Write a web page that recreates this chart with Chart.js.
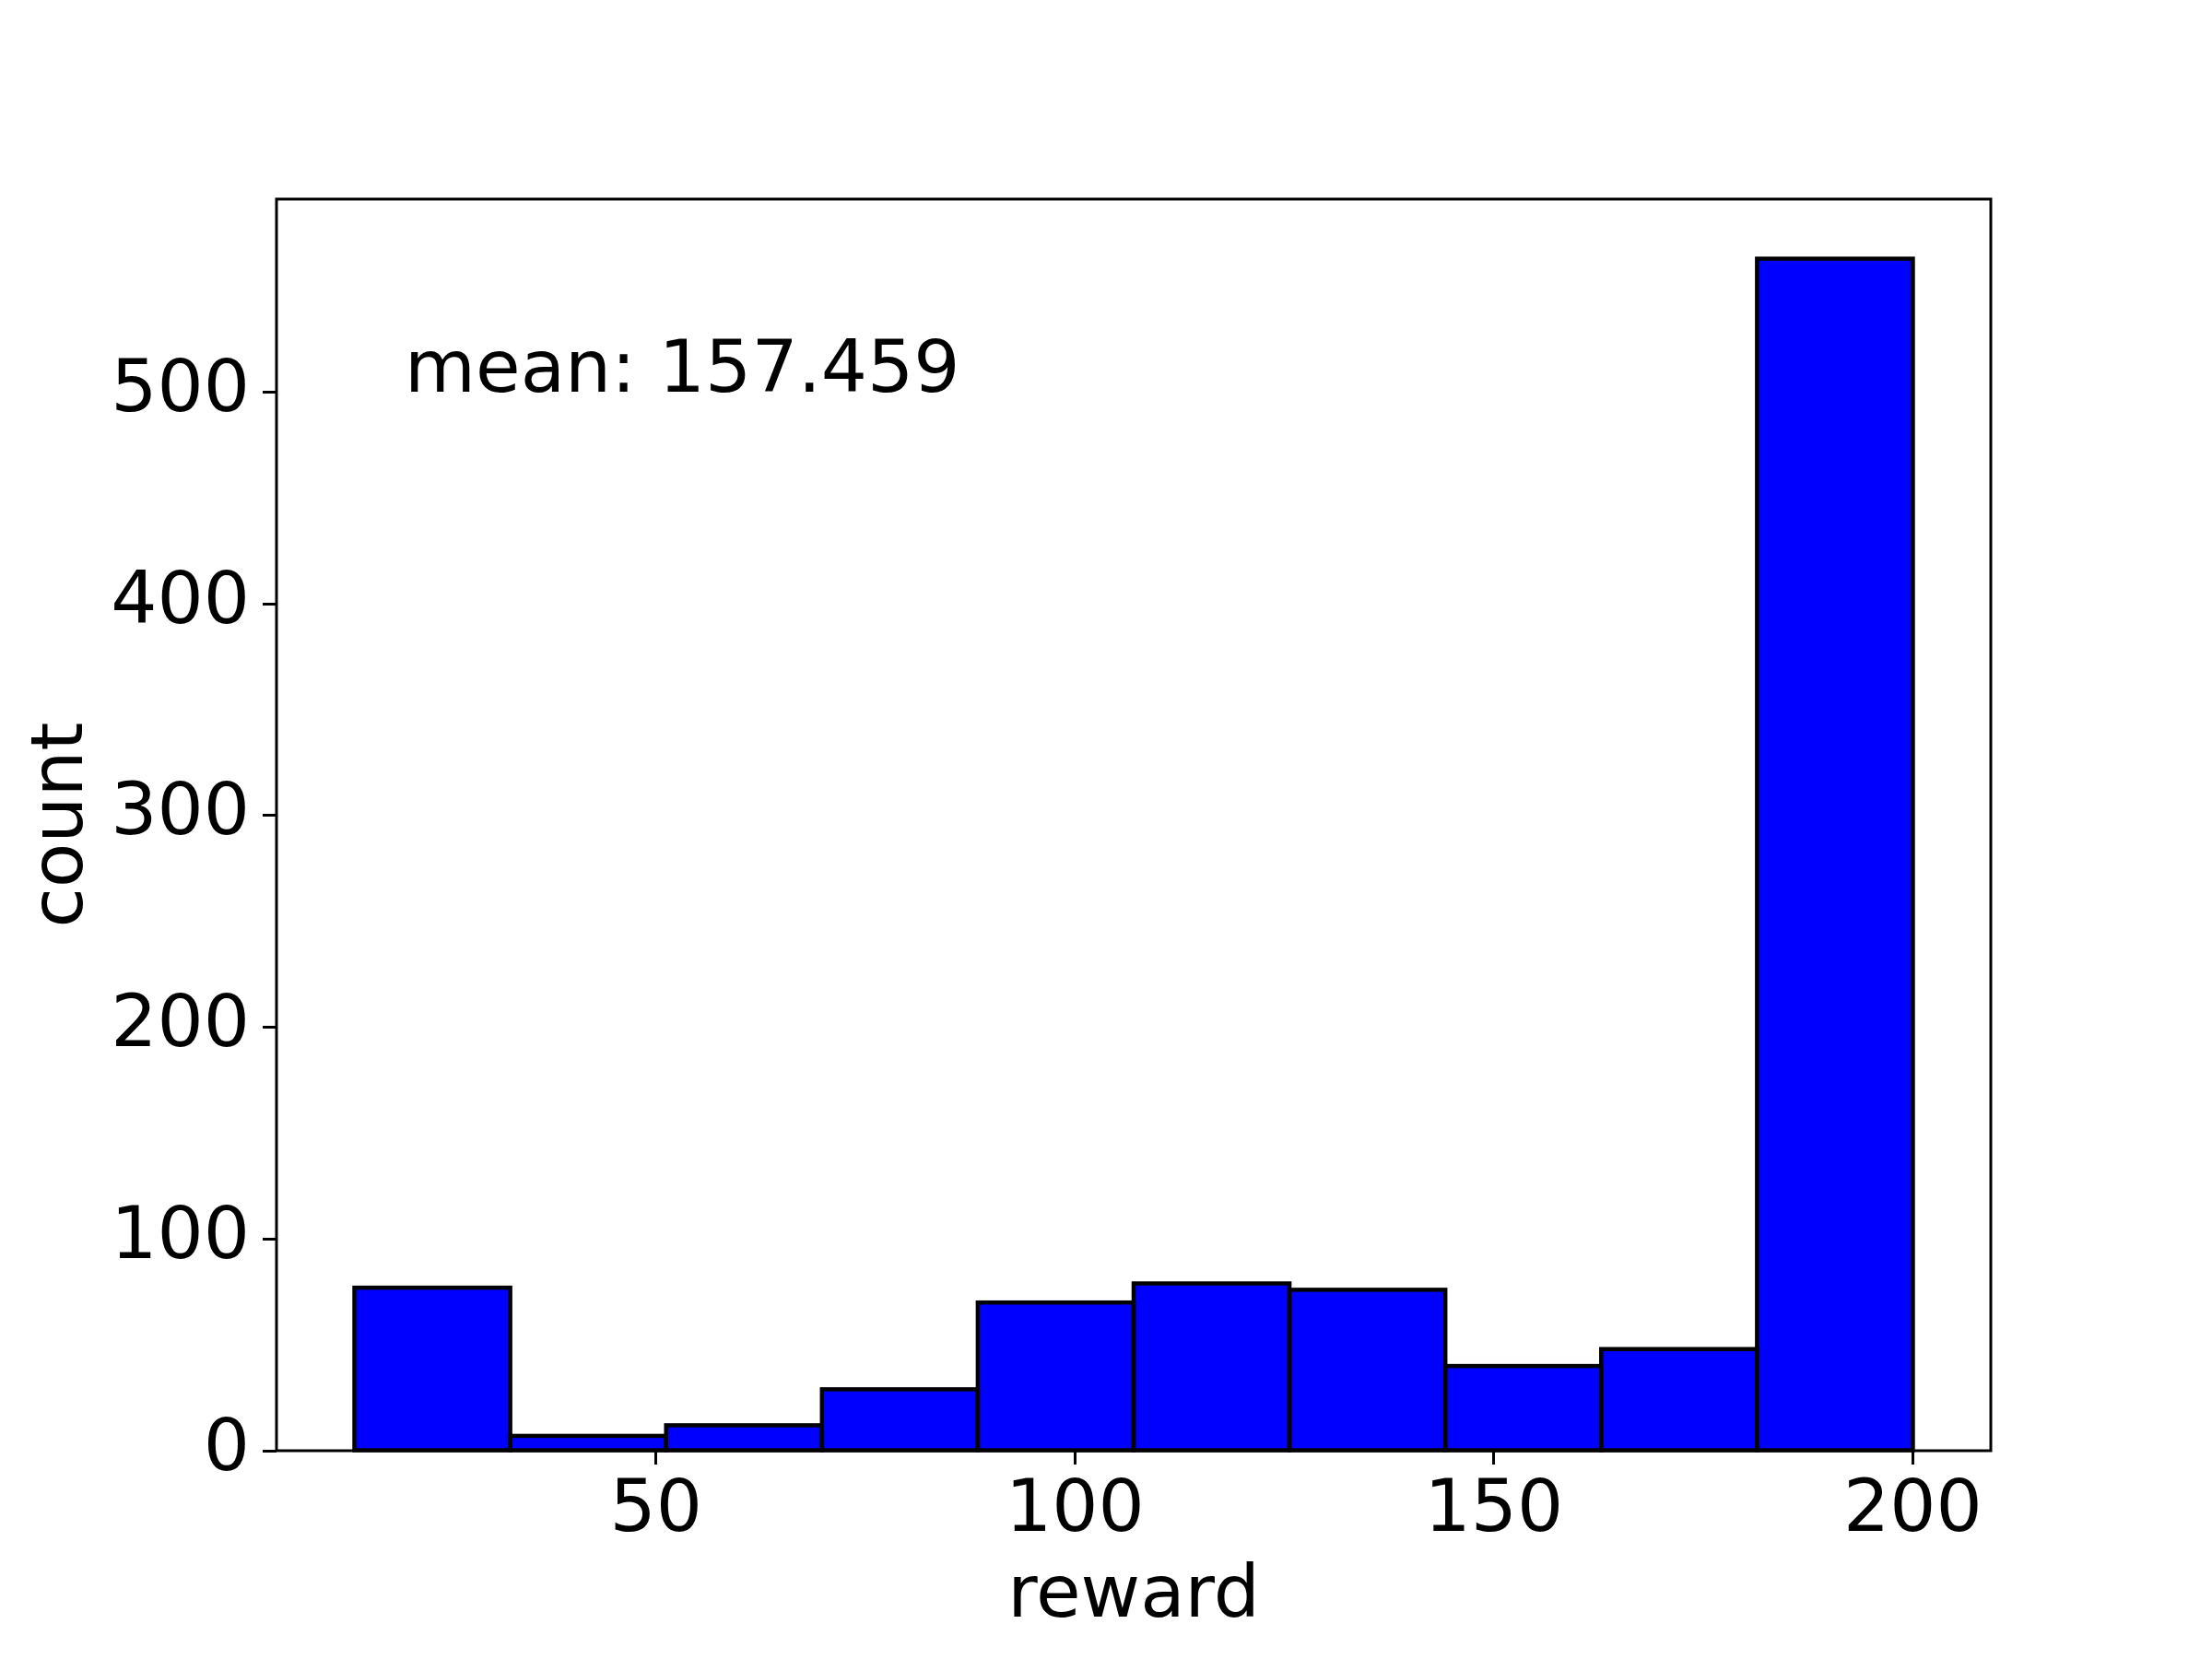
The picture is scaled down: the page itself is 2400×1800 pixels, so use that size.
<!DOCTYPE html>
<html>
<head>
<meta charset="utf-8">
<script src="https://cdn.jsdelivr.net/npm/chart.js@4/dist/chart.umd.min.js"></script>
<style>
  body { margin: 0; background: #fff; }
  canvas { display: block; }
</style>
</head>
<body>
<canvas id="hist" width="2400" height="1800"></canvas>
<script>
// histogram data
const binEdges = [14, 32.6, 51.2, 69.8, 88.4, 107, 125.6, 144.2, 162.8, 181.4, 200];
const counts = [77, 7, 12, 29, 70, 79, 76, 40, 48, 563];
const xTicks = [50, 100, 150, 200];
const yTicks = [0, 100, 200, 300, 400, 500];
const xRange = [4.7, 209.3];
const yRange = [0, 591.15];
const meanLabel = 'mean: 157.459';
const meanPos = [20, 500];

const font = 'DejaVu Sans';
const fontSize = 79;

const points = counts.map((c, i) => ({ x: (binEdges[i] + binEdges[i + 1]) / 2, y: c }));

// matplotlib style edges + frame + text
const extras = {
  id: 'extras',
  afterDatasetsDraw(chart) {
    const ctx = chart.ctx;
    const meta = chart.getDatasetMeta(0);
    ctx.save();
    ctx.strokeStyle = '#000';
    ctx.lineWidth = 4.5;
    ctx.lineJoin = 'miter';
    meta.data.forEach(el => {
      ctx.strokeRect(el.x - el.width / 2, el.y, el.width, el.base - el.y);
    });
    const a = chart.chartArea;
    ctx.lineWidth = 3;
    ctx.strokeRect(a.left, a.top, a.right - a.left, a.bottom - a.top);

    ctx.fillStyle = '#000';
    ctx.font = fontSize + 'px "' + font + '"';
    ctx.textAlign = 'left';
    ctx.textBaseline = 'alphabetic';
    ctx.fillText(meanLabel, chart.scales.x.getPixelForValue(meanPos[0]), chart.scales.y.getPixelForValue(meanPos[1]));
    ctx.restore();
  }
};

new Chart(document.getElementById('hist'), {
  type: 'bar',
  data: {
    datasets: [{
      data: points,
      backgroundColor: '#0000ff',
      borderWidth: 0,
      barPercentage: 1,
      categoryPercentage: 1
    }]
  },
  options: {
    responsive: false,
    devicePixelRatio: 1,
    animation: false,
    layout: { padding: { top: 216, right: 240, left: 0, bottom: 0 } },
    plugins: { legend: { display: false }, tooltip: { enabled: false } },
    scales: {
      x: {
        type: 'linear',
        offset: false,
        min: xRange[0],
        max: xRange[1],
        afterBuildTicks: s => { s.ticks = xTicks.map(v => ({ value: v })); },
        afterFit: s => { s.height = 226; },
        border: { display: false },
        grid: { offset: false, drawOnChartArea: false, tickLength: 15, tickColor: '#000', tickWidth: 3 },
        ticks: { color: '#000', padding: 4, maxRotation: 0, font: { family: font, size: fontSize } },
        title: {
          display: true, text: 'reward', color: '#000',
          font: { family: font, size: fontSize, lineHeight: 1 },
          padding: { top: 0, bottom: 27 }
        }
      },
      y: {
        min: yRange[0],
        max: yRange[1],
        afterBuildTicks: s => { s.ticks = yTicks.map(v => ({ value: v })); },
        afterFit: s => { s.width = 300; },
        border: { display: false },
        grid: { drawOnChartArea: false, tickLength: 15, tickColor: '#000', tickWidth: 3 },
        ticks: { color: '#000', padding: 14, font: { family: font, size: fontSize } },
        title: {
          display: true, text: 'count', color: '#000',
          font: { family: font, size: fontSize, lineHeight: 1 },
          padding: { top: 29, bottom: 0 }
        }
      }
    }
  },
  plugins: [extras]
});
</script>
</body>
</html>
